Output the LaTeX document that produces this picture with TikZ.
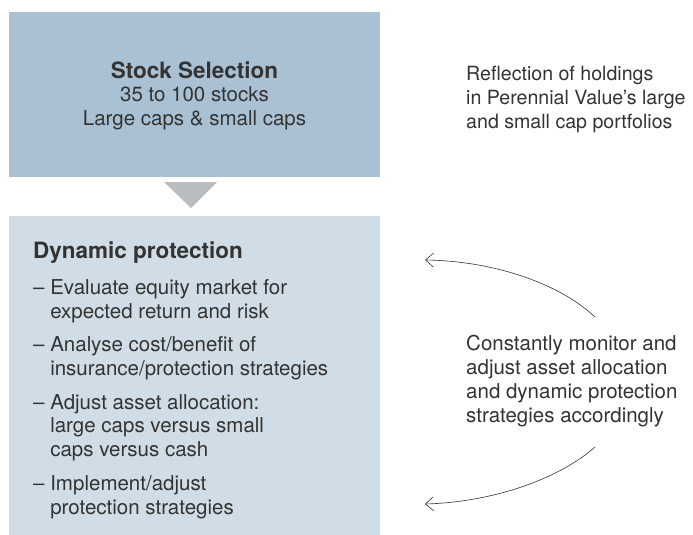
\documentclass[tikz,border=0pt]{standalone}
\usepackage{fontspec}
\setmainfont{TeX Gyre Heros}
\usetikzlibrary{arrows.meta,positioning,calc}

\definecolor{selblue}{HTML}{A9C1D2}
\definecolor{dynblue}{HTML}{D0DDE6}
\definecolor{trigray}{HTML}{B9BCC1}
\definecolor{txtgray}{HTML}{333333}

\tikzset{
	box/.style={inner sep=0pt, outer sep=0pt, anchor=north west},
	body/.style={font=\fontsize{20.5}{23.7}\selectfont, text=txtgray, inner sep=0pt},
	head/.style={font=\fontsize{22.5}{24}\selectfont\bfseries, text=txtgray, inner sep=0pt},
	loop/.style={draw=txtgray, line width=0.6pt, -{Straight Barb[length=8pt,width=14pt]}}
}

\begin{document}
\begin{tikzpicture}[x=1pt,y=-1pt]

		\useasboundingbox (0,0) rectangle (693,535);

		% the two boxes
		\node[box, fill=selblue, minimum width=371pt, minimum height=165pt] (sel) at (9,12) {};
		\node[box, fill=dynblue, minimum width=371pt, minimum height=319pt] (dyn) at (9,216) {};

		\fill[trigray] ($(sel.south)+(-30.5,5)$) -- ($(sel.south)+(22.5,5)$) -- ($(sel.south)+(-3.5,31)$) -- cycle;

		% texts (base = last line)
		\node[head, anchor=base] (selhead) at (194.5,78) {Stock Selection};
		\node[body, align=center, anchor=base] (seltxt) at (194.5,125)
			{35 to 100 stocks\\Large caps \& small caps};

		\node[head, anchor=base west] (dynhead) at (33,258) {Dynamic protection};
		\node[body, align=left, anchor=base west] (dyntxt) at (33,514)
			{– Evaluate equity market for\\\hphantom{– }expected return and risk\\[10pt]
			 – Analyse cost/benefit of\\\hphantom{– }insurance/protection strategies\\[10pt]
			 – Adjust asset allocation:\\\hphantom{– }large caps versus small\\\hphantom{– }caps versus cash\\[10pt]
			 – Implement/adjust\\\hphantom{– }protection strategies};

		\node[body, font=\fontsize{19.6}{23.7}\selectfont, align=left, anchor=base west] (refl) at (466,128)
			{Reflection of holdings\\in Perennial Value’s large\\and small cap portfolios};

		\node[body, align=left, anchor=base west] (mon) at (466,422)
			{Constantly monitor and\\adjust asset allocation\\and dynamic protection\\strategies accordingly};

		% feedback arcs
		\coordinate (up1) at (595,317);
		\coordinate (up2) at (425,260);
		\coordinate (lo1) at (595,447);
		\coordinate (lo2) at (425,504);

		\draw[loop] (up1) .. controls (560,284) and (495,261) .. (up2);
		\draw[loop] (lo1) .. controls (560,478) and (495,502) .. (lo2);

	\end{tikzpicture}
\end{document}
